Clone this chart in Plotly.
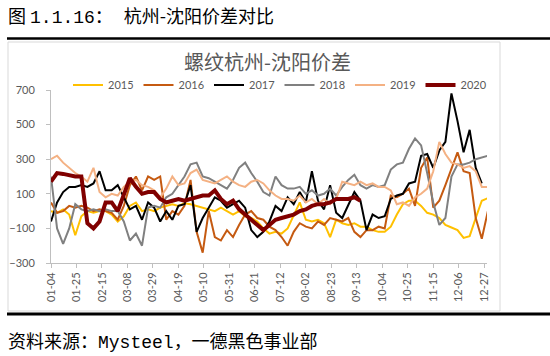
import pandas as pd
import plotly.graph_objects as go

# ---- data (5-day grid starting 01-04) ----
tick_labels = ["01-04", "01-25", "02-15", "03-08", "03-29", "04-19", "05-10", "05-31",
               "06-21", "07-12", "08-02", "08-23", "09-13", "10-04", "10-25", "11-15",
               "12-06", "12-27"]

y2015 = [0, -10, 10, -20, -140, -30, 0, -10, 0, 0, -20, -60, -30, 30, 50, 0, 10, 0, 20, 30,
         40, 30, 45, 40, 30, 20, 10, 0, 20, 0, -20, 0, -30, -40, -60, -100, -130, -120, -130, -100,
         -20, 50, -50, -60, -50, -70, -150, -50, -70, -80, -70, -90, -90, -110, -120, -120, -90, -20, 40, 60,
         60, 30, -10, -20, -40, -80, -95, -110, -155, -145, -40, 60, 75]
y2016 = [50, -10, 0, 30, 20, 30, 20, 0, 10, 0, -10, -50, 30, 150, 200, 120, 200, 180, 200, -50,
         0, -20, 30, 180, -120, -240, 0, -150, -170, -110, -150, -80, -20, 0, -40, -50, -90, -110, -150, -200,
         -120, -70, -90, -100, -60, -80, -40, -50, -60, -40, -120, -150, -110, -110, -90, -100, 90, 80, 100, 130,
         30, 250, 310, 20, 60, 150, 250, 340, 230, 220, -40, -160, 0]
y2017 = [-60, 50, 110, 140, 140, 150, 140, 160, 230, 120, 120, 150, 80, 10, 30, -50, 50, 20, -60, 0,
         -50, 30, 40, 150, -120, -40, 20, 80, 60, 20, 40, 60, 20, -110, -150, -120, -60, 30, 0, 80,
         40, 110, 50, 230, 60, 10, 150, -10, -40, 40, 110, 60, -110, -20, -40, -30, 70, 90, 100, 160,
         170, 320, 330, 250, 350, 400, 680, 520, 340, 470, 250, 160, None]
y2018 = [200, -100, -190, -100, 40, 10, 0, 10, 0, 10, 0, 0, -60, -170, -130, -200, 20, 30, 20, 80,
         100, 150, 200, 270, 280, 200, 190, 170, 150, 130, 180, 250, 280, 220, 170, 110, 90, 200, 150, 130,
         130, 140, 100, 120, 90, 100, 130, 90, 140, 180, 210, 150, 130, 150, 140, 150, 240, 270, 280, 360,
         420, 380, 220, 50, -80, -40, 200, 270, 270, 280, 300, 310, 320]
y2019 = [300, 320, 280, 250, 220, 200, 170, 250, 110, 80, 100, 90, 140, 170, 180, 150, 140, 120, 80, 130,
         200, 150, 160, 220, 240, 180, 170, 160, 180, 200, 170, 150, 140, 170, 180, 160, 120, 90, 70, 70,
         60, 90, 50, 70, 40, 70, 40, 70, 170, 160, 150, 170, 150, 160, 140, 140, 120, 40, 50, 30,
         80, 100, 130, 230, 400, 330, 280, 270, 250, 260, 230, 140, 140]
y2020 = [170, 220, 215, 205, 200, 200, -70, -100, -60, 50, 50, 0, 100, 190, 140, 100, 110, 110, 70, 50,
         60, 70, 60, 70, 80, 90, 90, 120, 70, 40, 60, 10, -20, -50, -80, -110, -80, -50, -40, -30,
         -20, 0, 10, 30, 40, 40, 50, 70, 70, 70, 80, 60]

series = [("2015", y2015, "#FFC000", 2),
          ("2016", y2016, "#C55A11", 2),
          ("2017", y2017, "#000000", 2),
          ("2018", y2018, "#808080", 2),
          ("2019", y2019, "#F4B183", 2),
          ("2020", y2020, "#800000", 4)]

YEAR = "2021-"
dates = pd.date_range(YEAR + "01-04", periods=73, freq="5D")
tickvals = [YEAR + t for t in tick_labels]

fig = go.Figure()
for name, vals, color, w in series:
    fig.add_trace(go.Scatter(x=dates[:len(vals)], y=vals, name=name, mode="lines",
                             line=dict(color=color, width=w), connectgaps=False))

# pixel -> paper helpers (plot area: x 51..487, y 90..263)
def px(x):
    return (x - 51) / 436.0

def py(y):
    return (263 - y) / 173.0

axis_col = "#BFBFBF"
fig.update_layout(
    width=550, height=356,
    margin=dict(l=51, r=63, t=90, b=93, autoexpand=False),
    paper_bgcolor="white", plot_bgcolor="white",
    font=dict(family="Lato, sans-serif", size=11, color="#595959"),
    showlegend=True,
    legend=dict(orientation="h", x=px(68), xanchor="left", y=py(85), yanchor="middle",
                entrywidth=25.5, entrywidthmode="pixels", font=dict(size=11, color="#595959"),
                bgcolor="rgba(0,0,0,0)", tracegroupgap=0, itemwidth=30),
    xaxis=dict(type="date", range=[YEAR + "01-04", "2021-12-29 07:00"], automargin=False,
               tickmode="array", tickvals=tickvals, ticktext=tick_labels,
               tickangle=-90, ticks="outside", ticklen=4, tickcolor=axis_col,
               showline=True, linecolor=axis_col, linewidth=1, showgrid=False, zeroline=False,
               tickfont=dict(size=11, color="#595959")),
    yaxis=dict(range=[-300, 700], tickvals=[-300, -100, 100, 300, 500, 700], automargin=False,
               ticks="outside", ticklen=4, tickcolor=axis_col,
               showline=True, linecolor=axis_col, linewidth=1, showgrid=False, zeroline=False,
               tickfont=dict(size=11, color="#595959"), ticklabelstandoff=9),
)

shapes = [
    dict(type="rect", xref="paper", yref="paper", x0=px(8), x1=px(500), y0=py(311), y1=py(42),
         line=dict(color="#D9D9D9", width=1), fillcolor="rgba(0,0,0,0)", layer="below"),
    dict(type="line", xref="paper", yref="paper", x0=px(7), x1=px(550), y0=py(38.5), y1=py(38.5),
         line=dict(color="black", width=2.5)),
    dict(type="line", xref="paper", yref="paper", x0=px(7), x1=px(550), y0=py(314), y1=py(314),
         line=dict(color="black", width=3)),
]
fig.update_layout(shapes=shapes)

cjk = "Noto Sans CJK SC"
mono = "font-family:'Liberation Mono'"
heading = ("图 <span style=\"%s\">1.1.16</span>：<span style=\"%s\"> </span>杭州-沈阳价差对比"
           % (mono, mono))
source = "资料来源：<span style=\"%s\">Mysteel</span>，一德黑色事业部" % mono

fig.add_annotation(text=heading, xref="paper", yref="paper",
                   x=px(6), y=py(15), xanchor="left", yanchor="middle", showarrow=False,
                   font=dict(family=cjk, size=18, color="black"))
fig.add_annotation(text="螺纹杭州-沈阳价差", xref="paper", yref="paper",
                   x=px(267.5), y=py(61), xanchor="center", yanchor="middle", showarrow=False,
                   font=dict(family=cjk, size=20, color="#595959"))
fig.add_annotation(text=source, xref="paper", yref="paper",
                   x=px(6), y=py(340), xanchor="left", yanchor="middle", showarrow=False,
                   font=dict(family=cjk, size=18, color="black"))

fig.write_html("out.html", config={"displayModeBar": False},
               post_script="document.body.style.margin='0';document.body.style.overflow='hidden';")
